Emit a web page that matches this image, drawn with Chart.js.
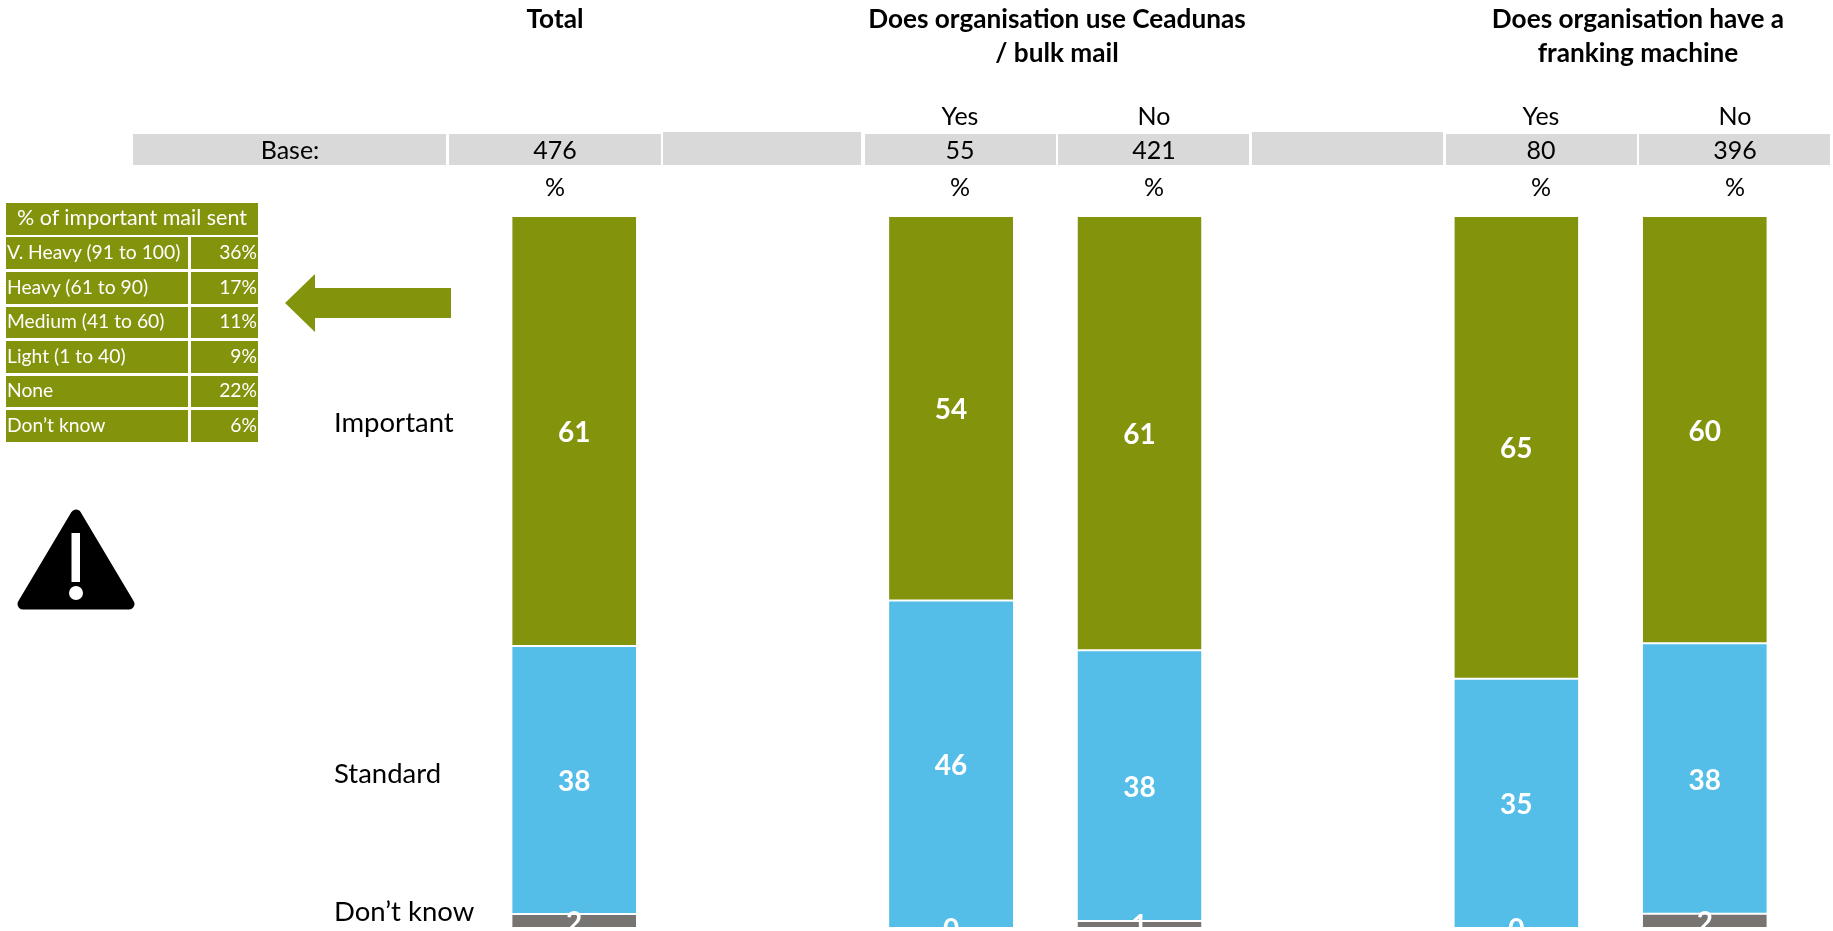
<!DOCTYPE html>
<html><head><meta charset="utf-8">
<script src="https://cdn.jsdelivr.net/npm/chart.js@4"></script>
<style>
html,body{margin:0;padding:0;background:#fff;width:1833px;height:931px;overflow:hidden;font-family:Lato,sans-serif;color:#000}
#wrap{position:absolute;left:0;top:0;width:1833px;height:928px}
.t{position:absolute;white-space:nowrap;transform:translate(-50%,-50%);font-size:25px;line-height:1}
.l{position:absolute;white-space:nowrap;transform:translateY(-50%);font-size:27.5px;line-height:1}
.b{font-weight:700;font-size:26.2px}
.c{position:absolute;background:#d9d9d9}
.g{position:absolute;background:#83930c;color:#fff;font-size:19.3px;line-height:1}
.g span{position:absolute;top:46%;transform:translateY(-50%);white-space:nowrap}
svg{position:absolute;left:0;top:0}
</style></head><body>
<div id="wrap"><canvas id="chart"></canvas></div>
<svg width="1833" height="931" style="pointer-events:none">
<polygon points="285,303 315,274 315,288 451,288 451,318 315,318 315,332" fill="#83930c"/>
<path d="M76,515 L129,604 L23,604 Z" fill="#000" stroke="#000" stroke-width="11" stroke-linejoin="round"/>
<rect x="71.500" y="533" width="8.500" height="49" fill="#fff"/>
<ellipse cx="76" cy="593" rx="7" ry="7" fill="#fff"/>
</svg>
<div id="html"></div>
<script>
const categories = ['Total','','Yes','No','','Yes','No'];
const bases      = ['476','','55','421','','80','396'];
const important  = [61,null,54,61,null,65,60];
const standard   = [38,null,46,38,null,35,38];
const dontKnow   = [2,null,0,1,null,0,2];
const seriesNames = ['Important','Standard','Don’t know'];
const seriesColors = ['#83930c','#55bee8','#787472'];
const mailBands = ['V. Heavy (91 to 100)','Heavy (61 to 90)','Medium (41 to 60)','Light (1 to 40)','None','Don’t know'];
const mailShares = ['36%','17%','11%','9%','22%','6%'];

// Every column in the reference is drawn to the same full height, so each is plotted as a share of its own total.
const totals = categories.map((_,i)=>(important[i]||0)+(standard[i]||0)+(dontKnow[i]||0));
const share = arr => arr.map((v,i)=> v===null ? null : v/totals[i]*100);
const raw = [important,standard,dontKnow];

const valueLabels = {
  id:'valueLabels',
  afterDatasetsDraw(chart){
    const ctx = chart.ctx;
    ctx.save();
    ctx.font='700 28px Lato, sans-serif';
    ctx.fillStyle='#fff';
    ctx.textAlign='center';
    ctx.textBaseline='middle';
    chart.data.datasets.forEach((ds,d)=>{
      chart.getDatasetMeta(d).data.forEach((bar,i)=>{
        if(raw[d][i]===null) return;
        const p = bar.getCenterPoint();
        ctx.fillText(String(raw[d][i]), p.x, p.y + 2);
      });
    });
    ctx.restore();
  }
};

new Chart(document.getElementById('chart'),{
  type:'bar',
  data:{labels:categories,datasets:raw.map((arr,d)=>({
    label:seriesNames[d],
    data:share(arr),
    backgroundColor:seriesColors[d],
    borderColor:'#ffffff',
    borderWidth:{top:1,bottom:1,left:0,right:0},
    borderSkipped:false,
    barPercentage:0.658,
    categoryPercentage:1
  }))},
  options:{
    responsive:true,maintainAspectRatio:false,animation:false,
    layout:{padding:{top:216,left:480,right:34,bottom:0}},
    plugins:{legend:{display:false},tooltip:{enabled:false},title:{display:false}},
    scales:{
      x:{stacked:true,display:false},
      y:{stacked:true,display:false,min:0,max:100,reverse:true}
    }
  },
  plugins:[valueLabels]
});

const host=document.getElementById('html');
function add(cls,text,style){const e=document.createElement('div');e.className=cls;e.textContent=text;Object.assign(e.style,style);host.appendChild(e);return e;}
function box(x0,y0,x1,y1){return {left:x0+'px',top:y0+'px',width:(x1-x0)+'px',height:(y1-y0)+'px'};}
function ctr(x,y){return {left:x+'px',top:y+'px'};}

add('t b','Total',ctr(555,18));
add('t b','Does organisation use Ceadunas',ctr(1057,18));
add('t b','/ bulk mail',ctr(1057,52));
add('t b','Does organisation have a',ctr(1638,18));
add('t b','franking machine',ctr(1638,52));

[[133,134,446],[449,134,661],[663,132,861],[865,134,1056],[1058,134,1249],[1252,132,1443],[1446,134,1637],[1639,134,1830]]
 .forEach(c=>add('c','',box(c[0],c[1],c[2],165)));

add('t','Base:',ctr(290,149));
const colX={0:555,2:960,3:1154,5:1541,6:1735};
Object.keys(colX).forEach(i=>{
  if(categories[i]!=='Total') add('t',categories[i],ctr(colX[i],115));
  add('t',bases[i],ctr(colX[i],149));
  add('t','%',ctr(colX[i],186));
});

add('l',seriesNames[0],ctr(334,422));
add('l',seriesNames[1],ctr(334,773));
add('l',seriesNames[2],ctr(334,911));

const head=add('g','',box(6,203,258,235));
head.style.fontSize='21.5px';
head.innerHTML='<span style="left:50%;transform:translate(-50%,-50%)">% of important mail sent</span>';
[[237,269],[272,304],[307,338],[341,373],[376,407],[410,442]].forEach((r,i)=>{
  const a=add('g','',box(6,r[0],188,r[1]));
  a.innerHTML='<span style="left:1px"></span>';a.firstChild.textContent=mailBands[i];
  const b=add('g','',box(191,r[0],258,r[1]));
  b.innerHTML='<span style="right:1px"></span>';b.firstChild.textContent=mailShares[i];
});
</script>
</body></html>
